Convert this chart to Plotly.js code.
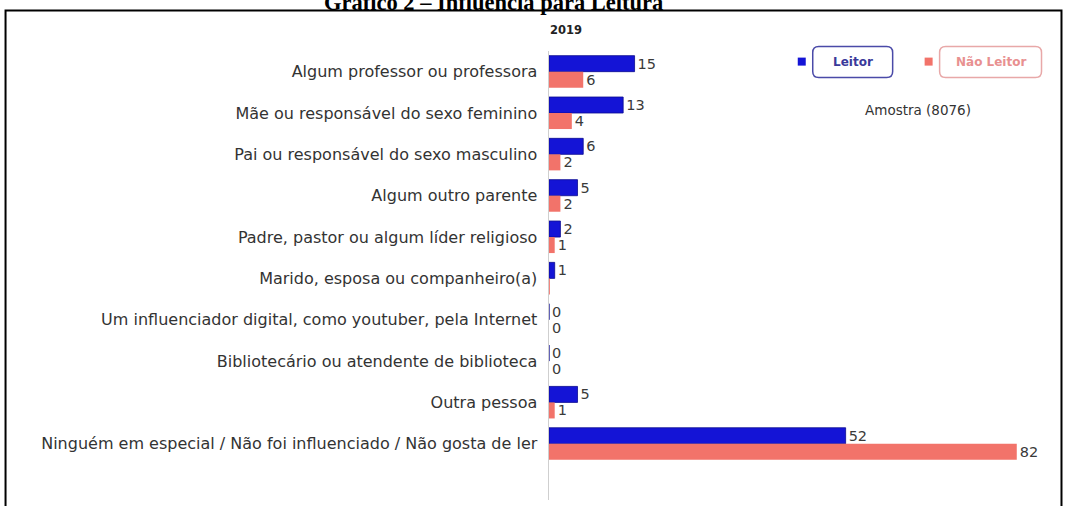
<!DOCTYPE html>
<html>
<head>
<meta charset="utf-8">
<script src="https://cdn.plot.ly/plotly-3.0.1.min.js"></script>
<style>html,body{margin:0;padding:0;background:#fff;}#chart{width:1065px;height:506px;}</style>
</head>
<body>
<div id="chart"></div>
<script>
const categories = [
  "Algum professor ou professora",
  "Mãe ou responsável do sexo feminino",
  "Pai ou responsável do sexo masculino",
  "Algum outro parente",
  "Padre, pastor ou algum líder religioso",
  "Marido, esposa ou companheiro(a)",
  "Um influenciador digital, como youtuber, pela Internet",
  "Bibliotecário ou atendente de biblioteca",
  "Outra pessoa",
  "Ninguém em especial / Não foi influenciado / Não gosta de ler"
];
const leitor = [15, 13, 6, 5, 2, 1, 0, 0, 5, 52];
const naoLeitor = [6, 4, 2, 2, 1, null, 0, 0, 1, 82];
const seriesNames = ["Leitor", "Não Leitor"];
const chartTitle = "Gráfico 2 – Influência para Leitura";
const yearLabel = "2019";
const sampleLabel = "Amostra (8076)";

const W = 1065, H = 506;
const M = {l: 549, r: 13.5, t: 51.4, b: 6};
const pw = W - M.l - M.r, ph = H - M.t - M.b;
const px = X => (X - M.l) / pw;
const py = Y => (H - M.b - Y) / ph;

const blue = "#1414d6", pink = "#f2736a";
const FONT = "DejaVu Sans";

function txt(arr){ return arr.map(v => v === null ? "" : String(v)); }

const traces = [
  {type: "bar", orientation: "h", name: seriesNames[0], y: categories, x: leitor,
   text: txt(leitor), textposition: "outside", constraintext: "none", cliponaxis: false,
   textfont: {family: FONT, size: 14.5, color: "#3a3a3a"},
   marker: {color: blue, line: {color: "#0a0a90", width: 0.8}}, hoverinfo: "x+y"},
  {type: "bar", orientation: "h", name: seriesNames[1], y: categories, x: naoLeitor.map(v => v === null ? 0.15 : v),
   text: txt(naoLeitor), textposition: "outside", constraintext: "none", cliponaxis: false,
   textfont: {family: FONT, size: 14.5, color: "#3a3a3a"},
   marker: {color: pink}, hoverinfo: "x+y"}
];

function rrect(x0, y0, x1, y1, r){
  const X0 = px(x0), X1 = px(x1), Y0 = py(y0), Y1 = py(y1);
  const rx = r / pw, ry = r / ph;
  return `M ${X0+rx},${Y0} L ${X1-rx},${Y0} Q ${X1},${Y0} ${X1},${Y0-ry} L ${X1},${Y1+ry} Q ${X1},${Y1} ${X1-rx},${Y1} L ${X0+rx},${Y1} Q ${X0},${Y1} ${X0},${Y1+ry} L ${X0},${Y0-ry} Q ${X0},${Y0} ${X0+rx},${Y0} Z`;
}

const shapes = [
  {type: "path", xref: "paper", yref: "paper",
   path: `M ${px(5)},${py(510)} L ${px(5)},${py(11)} L ${px(1062)},${py(11)} L ${px(1062)},${py(510)}`,
   line: {color: "#000", width: 2}},
  {type: "path", xref: "paper", yref: "paper", path: rrect(813, 47, 893, 78, 6),
   line: {color: "#4a4aa8", width: 1.5}, fillcolor: "rgba(0,0,0,0)"},
  {type: "path", xref: "paper", yref: "paper", path: rrect(940, 47, 1042, 78, 6),
   line: {color: "#e8a8a8", width: 1.5}, fillcolor: "rgba(0,0,0,0)"},
  {type: "rect", xref: "paper", yref: "paper", x0: px(798), x1: px(806), y0: py(58), y1: py(66),
   fillcolor: blue, line: {width: 0}},
  {type: "rect", xref: "paper", yref: "paper", x0: px(925), x1: px(933), y0: py(58), y1: py(66),
   fillcolor: pink, line: {width: 0}}
];

const annotations = [
  {xref: "paper", yref: "paper", x: px(493), y: py(3), text: "<b>" + chartTitle + "</b>",
   showarrow: false, xanchor: "center", yanchor: "middle",
   font: {family: "Liberation Serif", size: 22.5, color: "#000"}},
  {xref: "paper", yref: "paper", x: px(566), y: py(30), text: "<b>" + yearLabel + "</b>",
   showarrow: false, xanchor: "center", yanchor: "middle",
   font: {family: FONT, size: 11.5, color: "#222"}},
  {xref: "paper", yref: "paper", x: px(853), y: py(62), text: "<b>" + seriesNames[0] + "</b>",
   showarrow: false, xanchor: "center", yanchor: "middle",
   font: {family: FONT, size: 12, color: "#3a3a9a"}},
  {xref: "paper", yref: "paper", x: px(991), y: py(62), text: "<b>" + seriesNames[1] + "</b>",
   showarrow: false, xanchor: "center", yanchor: "middle",
   font: {family: FONT, size: 12, color: "#e89090"}},
  {xref: "paper", yref: "paper", x: px(918), y: py(110), text: sampleLabel,
   showarrow: false, xanchor: "center", yanchor: "middle",
   font: {family: FONT, size: 13.5, color: "#333"}}
];

const layout = {
  width: W, height: H,
  margin: M,
  paper_bgcolor: "#fff", plot_bgcolor: "#fff",
  showlegend: false,
  barmode: "group", bargap: 0.225, bargroupgap: 0,
  xaxis: {range: [0, 88], showgrid: false, zeroline: false, showticklabels: false, showline: false, fixedrange: true},
  yaxis: {type: "category", range: [10.36, -0.5], showgrid: false, zeroline: false,
          showline: true, linecolor: "#cfcfcf", linewidth: 1.5, ticks: "", ticklabelstandoff: 7,
          tickfont: {family: FONT, size: 16, color: "#333"}, fixedrange: true},
  shapes: shapes,
  annotations: annotations
};

Plotly.newPlot("chart", traces, layout, {displayModeBar: false, staticPlot: true});
</script>
</body>
</html>
